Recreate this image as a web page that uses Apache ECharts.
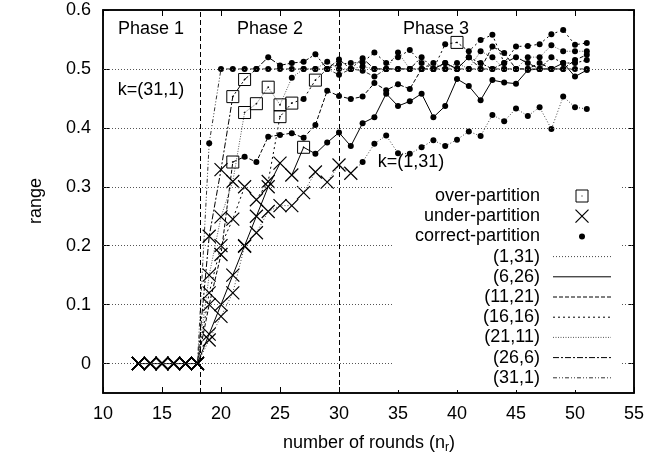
<!DOCTYPE html>
<html><head><meta charset="utf-8">
<script src="https://cdn.jsdelivr.net/npm/echarts@6/dist/echarts.min.js"></script>
<style>html,body{margin:0;padding:0;background:#fff}#c{width:672px;height:460px}</style>
</head><body><div id="c"></div>
<script>
// ---------- data ----------
const rounds = [13,14,15,16,17,18,19,20,21,22,23,24,25,26,27,28,29,30,31,32,33,34,35,36,37,38,39,40,41,42,43,44,45,46,47,48,49,50,51];
const seriesNames = ['(1,31)','(6,26)','(11,21)','(16,16)','(21,11)','(26,6)','(31,1)'];
const r1_31  = [0,0,0,0,0,0, 0.04,0.08,0.12,0.199,0.222,0.258,0.268,0.268,0.29,0.325, 0.308,0.337,0.323,0.342,0.373,0.387,0.357,0.356,0.367,0.379, 0.369,0.38,0.394,0.386,0.422,0.411,0.433,0.42,0.435,0.398, 0.453,0.435,0.432];
const r6_26  = [0,0,0,0,0,0, 0.05,0.1,0.15,0.2,0.25,0.3,0.34,0.32,0.367,0.356, 0.375,0.392,0.369,0.408,0.418,0.458,0.437,0.445,0.458,0.418, 0.437,0.483,0.471,0.447,0.481,0.477,0.475,0.498,0.5,0.5, 0.51,0.487,0.498];
const r11_21 = [0,0,0,0,0,0, 0.1,0.185,0.342,0.351,0.342,0.385,0.388,0.391,0.383,0.405, 0.463,0.454,0.449,0.453,0.476,0.464,0.474,0.466,0.5,0.5, 0.51,0.5,0.52,0.5,0.538,0.527,0.5,0.5,0.51,0.5, 0.5,0.515,0.524];
const r16_16 = [0,0,0,0,0,0, 0.12,0.2,0.245,0.3,0.278,0.309,0.419,0.442,0.449,0.481, 0.5,0.508,0.51,0.511,0.528,0.51,0.52,0.532,0.51,0.5, 0.542,0.545,0.53,0.549,0.558,0.51,0.538,0.539,0.542,0.559, 0.566,0.541,0.544];
const r21_11 = [0,0,0,0,0,0, 0.15,0.249,0.309,0.426,0.441,0.469,0.439,0.485,0.5,0.5, 0.512,0.5,0.5,0.504,0.5,0.5,0.528,0.5,0.5,0.51, 0.5,0.51,0.5,0.53,0.52,0.5,0.5,0.52,0.52,0.54, 0.53,0.53,0.53];
const r26_6  = [0,0,0,0,0,0, 0.216,0.329,0.453,0.482,0.5,0.52,0.506,0.51,0.512,0.525, 0.5,0.516,0.5,0.518,0.5,0.5,0.5,0.5,0.52,0.5, 0.51,0.5,0.52,0.51,0.5,0.51,0.52,0.51,0.5,0.52, 0.51,0.51,0.515];
const r31_1  = [0,0,0,0,0,0, 0.374,0.5,0.5,0.5,0.5,0.5,0.5,0.5,0.5,0.5, 0.5,0.49,0.5,0.497,0.487,0.5,0.5,0.5,0.5,0.5, 0.5,0.5,0.5,0.5,0.5,0.5,0.5,0.5,0.5,0.5, 0.5,0.5,0.5];
// partition class: rounds up to lastUnder are under-partitioned, listed rounds are over-partitioned, rest correct
const lastUnder  = [31, 26, 20, 24, 21, 20, 18];
const overRounds = [[], [27], [21], [25,26,28,40], [22,23,24,25], [21,22], []];
const yTicks = [0,0.1,0.2,0.3,0.4,0.5,0.6];
const phaseBounds = [18.2, 30];
const gridLevels = [0,0.1,0.2,0.3,0.4,0.5];
const legendMarks = ['over-partition','under-partition','correct-partition'];

// ---------- styles ----------
const FONT = 'Liberation Sans, Arial, sans-serif';
const dashes = {
  '(1,31)':  {type:[1,2], color:'#444'},
  '(6,26)':  {type:'solid', color:'#000'},
  '(11,21)': {type:[4,2], color:'#000'},
  '(16,16)': {type:[2,3], color:'#000'},
  '(21,11)': {type:[1,1.5], color:'#555'},
  '(26,6)':  {type:[6,2,2,2], color:'#000'},
  '(31,1)':  {type:[4,2,1,2,1,2], color:'#333'}
};
const SYM = {
  o: {symbol:'path://M0,0H12V12H0ZM5.6,5.6H6.4V6.4H5.6Z', size:12, style:{color:'rgba(0,0,0,0)', borderColor:'#000', borderWidth:1}},
  u: {symbol:'path://M0,0L12,12M12,0L0,12', size:13, style:{color:'rgba(0,0,0,0)', borderColor:'#000', borderWidth:1.2}},
  c: {symbol:'circle', size:6, style:{color:'#000', borderWidth:0}}
};
const allVals = [r1_31,r6_26,r11_21,r16_16,r21_11,r26_6,r31_1];
const cls = (i,n)=> n<=lastUnder[i] ? 'u' : (overRounds[i].indexOf(n)>=0 ? 'o' : 'c');

const series = seriesNames.map((nm,i)=>({
  type:'line', name:nm, xAxisIndex:0, yAxisIndex:0,
  showSymbol:true, showAllSymbol:true, animation:false, silent:true,
  lineStyle:{width:1, type:dashes[nm].type, color:dashes[nm].color},
  itemStyle:{color:'#000'},
  emphasis:{disabled:true},
  z:3,
  data: rounds.map((n,j)=>{
    const s = SYM[cls(i,n)];
    return {value:[n, allVals[i][j]], symbol:s.symbol, symbolSize:s.size, itemStyle:s.style};
  })
}));
series.push({
  type:'line', data:[], silent:true, animation:false, z:1,
  markLine:{silent:true, symbol:'none', animation:false, label:{show:false},
    data: gridLevels.map(v=>({yAxis:v, lineStyle:{type:[1,2], color:'#555', width:1}}))
      .concat(phaseBounds.map(v=>({xAxis:v, lineStyle:{type:[5,3], color:'#000', width:1}})))
  }
});

const chart = echarts.init(document.getElementById('c'), null, {renderer:'canvas'});
const tickCommon = {show:true, inside:true, length:6, lineStyle:{color:'#000', width:1}};
const lx = 540, sx0 = 553, sx1 = 611, sxm = 582, ly0 = 196, lgap = 20.2;
const legendGraphics = [
  {type:'rect', shape:{x:392, y:186, width:228, height:204}, style:{fill:'#fff'}, z:50}
];
const legendLabels = legendMarks.concat(seriesNames);
legendLabels.forEach((t,i)=>{
  const y = ly0 + i*lgap;
  legendGraphics.push({type:'text', x:lx, y:y, z:51, style:{text:t, font:'18px '+FONT, fill:'#000', textAlign:'right', textVerticalAlign:'middle'}});
  if (i===0) legendGraphics.push({type:'group', x:sxm-6, y:y-6, z:51, children:[
    {type:'rect', shape:{x:0,y:0,width:12,height:12}, style:{fill:'none', stroke:'#000', lineWidth:1}, z:51},
    {type:'rect', shape:{x:5.5,y:5.5,width:1,height:1}, style:{fill:'#000'}, z:51}]});
  else if (i===1) legendGraphics.push({type:'group', x:sxm-6.5, y:y-6.5, z:51, children:[
    {type:'line', shape:{x1:0,y1:0,x2:13,y2:13}, style:{stroke:'#000', lineWidth:1.2}, z:51},
    {type:'line', shape:{x1:13,y1:0,x2:0,y2:13}, style:{stroke:'#000', lineWidth:1.2}, z:51}]});
  else if (i===2) legendGraphics.push({type:'circle', shape:{cx:sxm, cy:y, r:3}, style:{fill:'#000'}, z:51});
  else {
    const d = dashes[t];
    legendGraphics.push({type:'line', shape:{x1:sx0, y1:y, x2:sx1, y2:y}, z:51,
      style:{stroke:d.color, lineWidth:1, lineDash: d.type==='solid'?null:d.type}});
  }
});

const textG = (t,x,y,extra)=>Object.assign({type:'text', x:x, y:y, z:20, style:{text:t, font:'18px '+FONT, fill:'#000', textAlign:'center', textVerticalAlign:'middle'}}, extra||{});

chart.setOption({
  animation:false,
  grid:{left:103, top:10, width:531, height:383, show:true, borderColor:'#000', borderWidth:1.5, backgroundColor:'rgba(0,0,0,0)', containLabel:false},
  xAxis:[
    {type:'value', position:'bottom', min:10, max:55, interval:5,
     axisLine:{show:true, onZero:false, lineStyle:{color:'#000', width:1.5}},
     axisTick:tickCommon, splitLine:{show:false},
     axisLabel:{show:true, color:'#000', fontSize:18, fontFamily:FONT, margin:12}},
    {type:'value', position:'top', min:10, max:55, interval:5,
     axisLine:{show:true, onZero:false, lineStyle:{color:'#000', width:1.5}},
     axisTick:tickCommon, splitLine:{show:false}, axisLabel:{show:false}}
  ],
  yAxis:[
    {type:'value', position:'left', min:-0.05, max:0.6,
     axisLine:{show:true, onZero:false, lineStyle:{color:'#000', width:1.5}},
     axisTick:Object.assign({customValues:yTicks}, tickCommon), splitLine:{show:false},
     axisLabel:{show:true, customValues:yTicks, color:'#000', fontSize:18, fontFamily:FONT, margin:12,
       formatter:v=>String(Math.round(v*10)/10)}},
    {type:'value', position:'right', min:-0.05, max:0.6,
     axisLine:{show:true, onZero:false, lineStyle:{color:'#000', width:1.5}},
     axisTick:Object.assign({customValues:yTicks}, tickCommon), splitLine:{show:false}, axisLabel:{show:false}}
  ],
  series: series,
  graphic: [
    textG('Phase 1', 151, 29),
    textG('Phase 2', 270, 29),
    textG('Phase 3', 436, 29),
    textG('k=(31,1)', 151, 90),
    textG('k=(1,31)', 411, 162),
    textG('range', 36, 201, {rotation:Math.PI/2}),
    {type:'text', x:369, y:443, z:20, style:{text:'number of rounds (n{s|r})', font:'18px '+FONT, fill:'#000', textAlign:'center', textVerticalAlign:'middle',
      rich:{s:{fontSize:12, fontFamily:FONT, padding:[10,0,0,0]}}}}
  ].concat(legendGraphics)
});
</script></body></html>
